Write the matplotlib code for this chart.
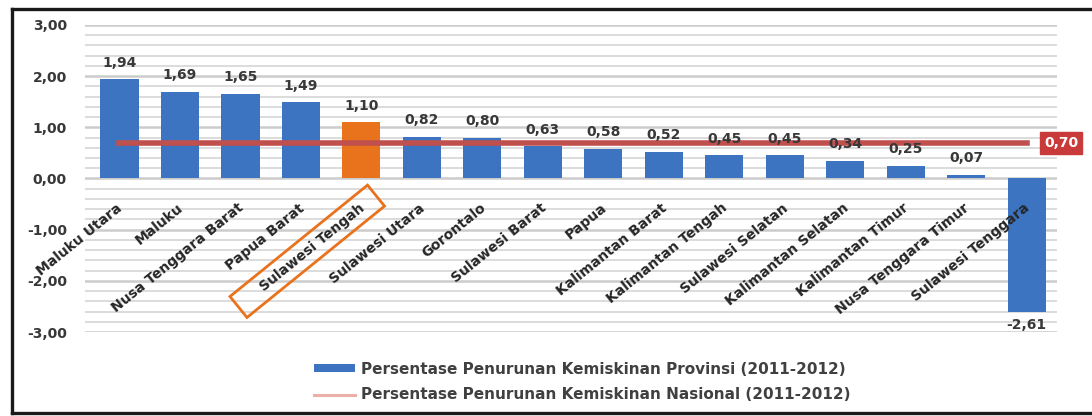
import matplotlib
matplotlib.use("Agg")
import matplotlib.pyplot as plt
from matplotlib.patches import Rectangle
from matplotlib.lines import Line2D
from matplotlib.transforms import Affine2D, IdentityTransform
from matplotlib.ticker import MultipleLocator, FuncFormatter

provinces = ["Maluku Utara", "Maluku", "Nusa Tenggara Barat", "Papua Barat",
             "Sulawesi Tengah", "Sulawesi Utara", "Gorontalo", "Sulawesi Barat",
             "Papua", "Kalimantan Barat", "Kalimantan Tengah", "Sulawesi Selatan",
             "Kalimantan Selatan", "Kalimantan Timur", "Nusa Tenggara Timur",
             "Sulawesi Tenggara"]
values = [1.94, 1.69, 1.65, 1.49, 1.10, 0.82, 0.80, 0.63, 0.58, 0.52, 0.45,
          0.45, 0.34, 0.25, 0.07, -2.61]
national = 0.70
highlight = "Sulawesi Tengah"
label_prov = "Persentase Penurunan Kemiskinan Provinsi (2011-2012)"
label_nat = "Persentase Penurunan Kemiskinan Nasional (2011-2012)"

W, H = 1092, 416
DPI = 100
fig = plt.figure(figsize=(W / DPI, H / DPI), dpi=DPI)
fig.patch.set_facecolor("white")

# outer black frame (open on the right side)
frame_kw = dict(color="#1a1a1a", lw=2.4, transform=IdentityTransform())
fig.add_artist(Line2D([12, W + 5], [H - 9, H - 9], **frame_kw))
fig.add_artist(Line2D([12, W + 5], [3, 3], **frame_kw))
fig.add_artist(Line2D([12, 12], [3, H - 9], **frame_kw))

ax = fig.add_axes([85 / W, 84 / H, 972 / W, 307 / H])
blue = "#3c74c2"
orange = "#e8731c"
red = "#c0504d"
txtc = "#383838"
FS = 10

x = list(range(len(provinces)))
colors = [orange if p == highlight else blue for p in provinces]
bars = ax.bar(x, values, width=0.63, color=colors, zorder=3, label=label_prov)
line, = ax.plot([x[0], x[-1]], [national, national], color=red, lw=4, zorder=4,
                label=label_nat)

ax.set_xlim(-0.57, len(provinces) - 0.5)
ax.set_ylim(-3, 3)
ax.yaxis.set_major_locator(MultipleLocator(1))
ax.yaxis.set_minor_locator(MultipleLocator(0.2))
ax.yaxis.set_major_formatter(FuncFormatter(lambda v, p: f"{v:.2f}".replace(".", ",")))
ax.grid(axis="y", which="major", color="#cccccc", lw=1.8, zorder=0)
ax.grid(axis="y", which="minor", color="#dcdcdc", lw=1.4, zorder=0)
ax.set_xticks([])
ax.tick_params(axis="y", which="both", length=0, pad=13, labelsize=FS, labelcolor=txtc)
for lab in ax.get_yticklabels():
    lab.set_fontweight("bold")
for s in ax.spines.values():
    s.set_visible(False)

# value labels
for xi, v in zip(x, values):
    txt = f"{v:.2f}".replace(".", ",")
    off = 12 if v >= 0 else -9
    ax.annotate(txt, (xi, v), xytext=(0, off), textcoords="offset points",
                ha="center", va="center", fontsize=FS, fontweight="bold",
                color=txtc, zorder=5)

# category labels next to the zero axis
for xi, p in zip(x, provinces):
    ax.annotate(p, (xi, 0), xytext=(1, -20), textcoords="offset points",
                ha="right", va="center", rotation=39, rotation_mode="anchor",
                fontsize=FS, fontweight="bold", color="#262626", zorder=6)
    if p == highlight:
        ax_x, ax_y = ax.transData.transform((xi, 0))
        box = Rectangle((-160, -13.5), 177, 27, fill=False, ec=orange, lw=2,
                        transform=Affine2D().rotate_deg(39).translate(ax_x + 1.4, ax_y - 27.8),
                        zorder=7)
        fig.add_artist(box)

# national value tag
ax.annotate(f"{national:.2f}".replace(".", ","), (x[-1], national), xytext=(12.5, 0),
            textcoords="offset points", ha="left", va="center", fontsize=FS,
            fontweight="bold", color="white", annotation_clip=False,
            bbox=dict(boxstyle="square,pad=0.3", fc="#c93a3a", ec="#c93a3a"))

leg = fig.legend(handles=[bars, line], labels=[label_prov, label_nat], loc="center",
                 bbox_to_anchor=(582 / W, 34 / H), frameon=False,
                 handlelength=2.7, handleheight=0.45, labelspacing=0.7,
                 handletextpad=0.35, prop={"weight": "bold", "size": 11})
for t in leg.get_texts():
    t.set_color("#404040")
leg.get_lines()[0].set_linewidth(2.2)
leg.get_lines()[0].set_color("#eab0a8")

fig.savefig("out.png", dpi=DPI, facecolor="white")
